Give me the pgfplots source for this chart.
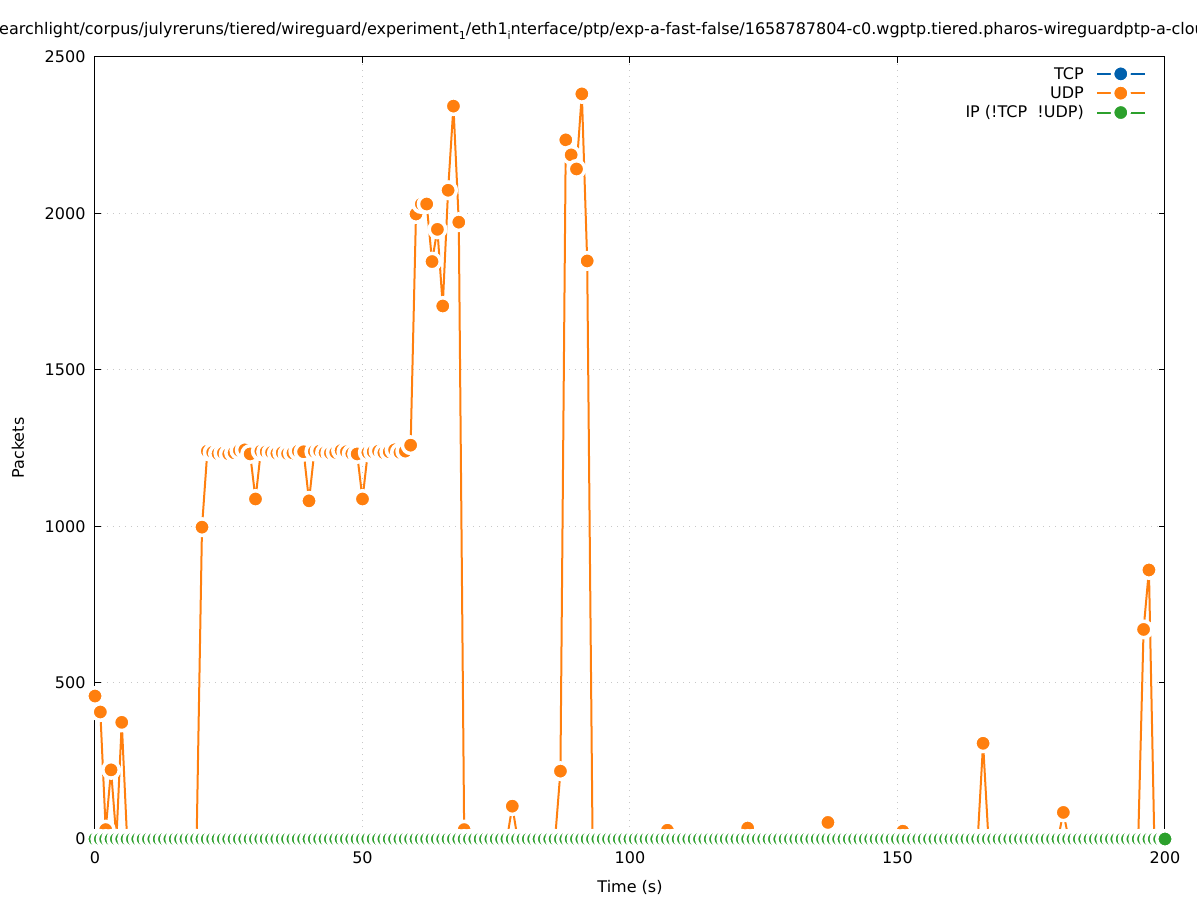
\documentclass[border=0pt]{standalone}
\usepackage{fontspec}
\setmainfont{DejaVu Sans}
\usepackage{pgfplots}
\usepackage{pgfplotstable}
\pgfplotsset{compat=1.18}
\definecolor{cTCP}{RGB}{0,96,173}
\definecolor{cUDP}{RGB}{255,127,14}
\definecolor{cIP}{RGB}{44,160,44}
\definecolor{cGrid}{RGB}{200,200,200}
\newcommand{\sub}[1]{\raisebox{-0.3em}{\fontsize{11}{11}\selectfont #1}}

\pgfplotstableread[row sep=\\]{
t tcp udp ip\\
0 0 457 0\\ 1 0 406 0\\ 2 0 30 0\\ 3 0 221 0\\ 4 0 0 0\\ 5 0 373 0\\ 6 0 0 0\\ 7 0 0 0\\ 8 0 0 0\\ 9 0 0 0\\
10 0 0 0\\ 11 0 0 0\\ 12 0 0 0\\ 13 0 0 0\\ 14 0 0 0\\ 15 0 0 0\\ 16 0 0 0\\ 17 0 0 0\\ 18 0 0 0\\ 19 0 0 0\\
20 0 997 0\\ 21 0 1240 0\\ 22 0 1236 0\\ 23 0 1232 0\\ 24 0 1234 0\\ 25 0 1231 0\\ 26 0 1235 0\\ 27 0 1242 0\\ 28 0 1244 0\\ 29 0 1231 0\\
30 0 1087 0\\ 31 0 1240 0\\ 32 0 1238 0\\ 33 0 1236 0\\ 34 0 1233 0\\ 35 0 1235 0\\ 36 0 1232 0\\ 37 0 1234 0\\ 38 0 1240 0\\ 39 0 1238 0\\
40 0 1081 0\\ 41 0 1239 0\\ 42 0 1240 0\\ 43 0 1235 0\\ 44 0 1234 0\\ 45 0 1236 0\\ 46 0 1242 0\\ 47 0 1238 0\\ 48 0 1232 0\\ 49 0 1231 0\\
50 0 1087 0\\ 51 0 1236 0\\ 52 0 1238 0\\ 53 0 1240 0\\ 54 0 1235 0\\ 55 0 1238 0\\ 56 0 1244 0\\ 57 0 1236 0\\ 58 0 1240 0\\ 59 0 1259 0\\
60 0 1998 0\\ 61 0 2030 0\\ 62 0 2030 0\\ 63 0 1846 0\\ 64 0 1949 0\\ 65 0 1704 0\\ 66 0 2074 0\\ 67 0 2343 0\\ 68 0 1972 0\\ 69 0 30 0\\
70 0 0 0\\ 71 0 0 0\\ 72 0 0 0\\ 73 0 0 0\\ 74 0 0 0\\ 75 0 0 0\\ 76 0 0 0\\ 77 0 0 0\\ 78 0 105 0\\ 79 0 0 0\\
80 0 0 0\\ 81 0 0 0\\ 82 0 0 0\\ 83 0 0 0\\ 84 0 0 0\\ 85 0 0 0\\ 86 0 0 0\\ 87 0 217 0\\ 88 0 2235 0\\ 89 0 2187 0\\
90 0 2142 0\\ 91 0 2382 0\\ 92 0 1848 0\\ 93 0 0 0\\ 94 0 0 0\\ 95 0 0 0\\ 96 0 0 0\\ 97 0 0 0\\ 98 0 0 0\\ 99 0 0 0\\
100 0 0 0\\ 101 0 0 0\\ 102 0 0 0\\ 103 0 0 0\\ 104 0 0 0\\ 105 0 0 0\\ 106 0 0 0\\ 107 0 28 0\\ 108 0 0 0\\ 109 0 0 0\\
110 0 0 0\\ 111 0 0 0\\ 112 0 0 0\\ 113 0 0 0\\ 114 0 0 0\\ 115 0 0 0\\ 116 0 0 0\\ 117 0 0 0\\ 118 0 0 0\\ 119 0 0 0\\
120 0 0 0\\ 121 0 0 0\\ 122 0 35 0\\ 123 0 0 0\\ 124 0 0 0\\ 125 0 0 0\\ 126 0 0 0\\ 127 0 0 0\\ 128 0 0 0\\ 129 0 0 0\\
130 0 0 0\\ 131 0 0 0\\ 132 0 0 0\\ 133 0 0 0\\ 134 0 0 0\\ 135 0 0 0\\ 136 0 0 0\\ 137 0 53 0\\ 138 0 0 0\\ 139 0 0 0\\
140 0 0 0\\ 141 0 0 0\\ 142 0 0 0\\ 143 0 0 0\\ 144 0 0 0\\ 145 0 0 0\\ 146 0 0 0\\ 147 0 0 0\\ 148 0 0 0\\ 149 0 0 0\\
150 0 0 0\\ 151 0 25 0\\ 152 0 0 0\\ 153 0 0 0\\ 154 0 0 0\\ 155 0 0 0\\ 156 0 0 0\\ 157 0 0 0\\ 158 0 0 0\\ 159 0 0 0\\
160 0 0 0\\ 161 0 0 0\\ 162 0 0 0\\ 163 0 0 0\\ 164 0 0 0\\ 165 0 0 0\\ 166 0 306 0\\ 167 0 0 0\\ 168 0 0 0\\ 169 0 0 0\\
170 0 0 0\\ 171 0 0 0\\ 172 0 0 0\\ 173 0 0 0\\ 174 0 0 0\\ 175 0 0 0\\ 176 0 0 0\\ 177 0 0 0\\ 178 0 0 0\\ 179 0 0 0\\
180 0 0 0\\ 181 0 85 0\\ 182 0 0 0\\ 183 0 0 0\\ 184 0 0 0\\ 185 0 0 0\\ 186 0 0 0\\ 187 0 0 0\\ 188 0 0 0\\ 189 0 0 0\\
190 0 0 0\\ 191 0 0 0\\ 192 0 0 0\\ 193 0 0 0\\ 194 0 0 0\\ 195 0 0 0\\ 196 0 670 0\\ 197 0 860 0\\ 198 0 0 0\\ 199 0 0 0\\
200 0 0 0\\
}\data

\begin{document}
\begin{tikzpicture}
\begin{axis}[
  scale only axis, width=1070pt, height=782pt,
  xmin=0, xmax=200, ymin=0, ymax=2500,
  xtick={0,50,...,200}, ytick={0,500,...,2500},
  tick align=inside, major tick length=6pt,
  tick style={black, line width=1pt},
  axis line style={line width=1pt},
  grid=major, grid style={cGrid, line width=1pt, dash pattern=on 1pt off 5pt},
  font=\fontsize{16}{19}\selectfont,
  tick label style={font=\fontsize{16}{19}\selectfont},
  xticklabel style={yshift=-9pt},
  yticklabel style={xshift=-6pt},
  /pgf/number format/assume math mode=true,
  /pgf/number format/set thousands separator={},
  xlabel={Time (s)}, ylabel={Packets},
  xlabel style={at={(axis description cs:0.5,-0.0614)}, anchor=center},
  ylabel style={at={(axis description cs:-0.072,0.5)}, anchor=center},
  clip=false,
  legend plot pos=right,
  legend cell align=right,
  legend style={at={(axis description cs:1,1)}, anchor=north east, xshift=-16pt, yshift=-6pt,
    draw=none, fill=none, font=\fontsize{16}{19}\selectfont, row sep=2pt},
  legend image code/.code={\path (0pt,0pt); \draw[mark repeat=2,mark phase=2,#1] plot coordinates {(10pt,0pt)(34pt,0pt)(58pt,0pt)};},
]
\addplot[cTCP, line width=2pt, mark=*, mark size=8.25pt, mark options={fill=cTCP, draw=white, line width=3.5pt, solid}] table[x=t,y=tcp]{\data};
\addlegendentry{TCP}
\addplot[cUDP, line width=2pt, mark=*, mark size=8.25pt, mark options={fill=cUDP, draw=white, line width=3.5pt, solid}] table[x=t,y=udp]{\data};
\addlegendentry{UDP}
\addplot[cIP, line width=2pt, mark=*, mark size=8.25pt, mark options={fill=cIP, draw=white, line width=3.5pt, solid}] table[x=t,y=ip]{\data};
\addlegendentry{IP (!TCP\ \ !UDP)}
\draw[black, line width=1pt] (rel axis cs:0,0) -- (rel axis cs:1,0);
\coordinate (LL) at (rel axis cs:0,0);
\end{axis}
\node[anchor=base west, inner sep=0pt, font=\fontsize{16}{19}\selectfont] at ([shift={(-104.3pt,804pt)}]LL)
  {searchlight/corpus/julyreruns/tiered/wireguard/experiment\sub{1}/eth1\sub{i}nterface/ptp/exp-a-fast-false/1658787804-c0.wgptp.tiered.pharos-wireguardptp-a-cloud};
\pgfresetboundingbox
\path ([shift={(-95pt,-61pt)}]LL) rectangle ([shift={(1102pt,839pt)}]LL);
\end{tikzpicture}
\end{document}
